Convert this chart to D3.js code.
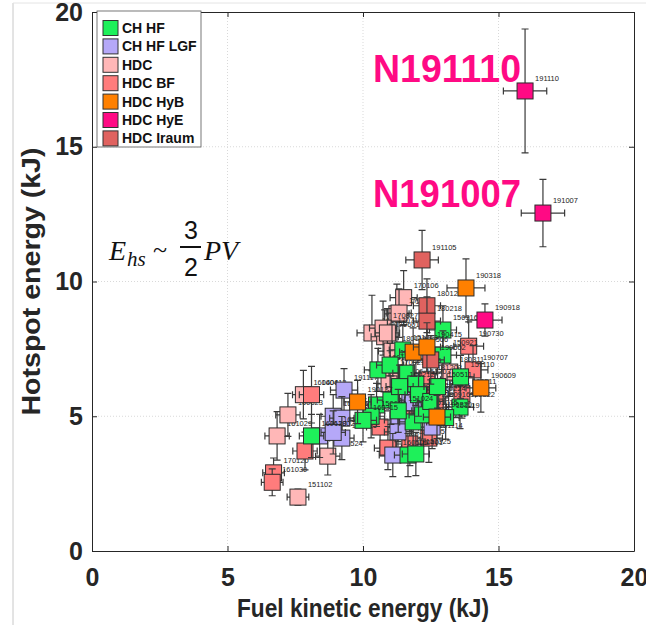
<!DOCTYPE html>
<html>
<head>
<meta charset="utf-8">
<script src="https://cdn.jsdelivr.net/npm/d3@7"></script>
<style>
  body { margin: 0; background: #fff; }
  svg { display: block; }
</style>
</head>
<body>
<div id="chart"></div>
<script>
// Data: [fuel KE (kJ), hotspot E (kJ), x error, y error, shot]
var chHf = [
  [12.95, 8.2, 0.5, 0.9, '150316'], [12.95, 7.27, 0.5, 0.9, '150921'],
  [11.47, 7.46, 0.5, 0.9, '151213'], [10.5, 5.42, 0.5, 0.8, '150521'],
  [10.55, 6.72, 0.5, 0.8, '160120'], [13.58, 5.34, 0.5, 0.8, '150822'],
  [11.03, 5.6, 0.5, 0.9, '160301'], [11.85, 4.79, 0.5, 0.9, '150727'],
  [12.2, 5.05, 0.5, 0.9, '151015'], [11.66, 3.56, 0.5, 0.8, '150401'],
  [8.1, 4.27, 0.45, 0.8, '160128'], [13.6, 6.46, 0.5, 0.8, '151110'],
  [11.0, 6.9, 0.5, 0.8, '150629'], [11.6, 6.6, 0.5, 0.8, '150805'],
  [11.95, 6.2, 0.5, 0.8, '151203'], [11.35, 6.1, 0.5, 0.8, '160212'],
  [12.05, 5.8, 0.5, 0.8, '150916'], [12.5, 5.55, 0.5, 0.8, '160224'],
  [10.3, 5.0, 0.5, 0.8, '150608'], [11.3, 5.2, 0.5, 0.8, '151024'],
  [12.75, 6.1, 0.5, 0.8, '150511'], [13.05, 4.95, 0.5, 0.8, '151119'],
  [11.95, 3.6, 0.5, 0.8, '150325'], [10.0, 4.85, 0.5, 0.8, '160315']
]
var chHfLgf = [
  [9.3, 5.97, 0.5, 0.8, '191117'], [8.9, 5.0, 0.45, 0.8, '160826'],
  [9.22, 4.93, 0.45, 0.8, '160912'], [8.4, 4.27, 0.45, 0.8, '161002'],
  [9.22, 4.19, 0.45, 0.8, '160915'], [8.9, 4.4, 0.45, 0.8, '161113'],
  [11.73, 5.6, 0.5, 0.8, '160807'], [11.29, 4.86, 0.5, 0.8, '160724'],
  [11.29, 4.42, 0.5, 0.8, '160612'], [11.1, 3.56, 0.5, 0.8, '160506'],
  [11.85, 5.5, 0.5, 0.8, '160925'], [12.55, 4.6, 0.5, 0.8, '161211']
]
var hdc = [
  [7.6, 2.0, 0.4, 0.3, '151102'], [6.83, 4.27, 0.45, 0.9, '161029'],
  [7.23, 5.05, 0.45, 0.8, '160623'], [7.8, 5.8, 0.4, 0.9, '160406'],
  [8.7, 3.52, 0.45, 0.7, '170524'], [10.33, 8.09, 0.55, 1.4, '161023'],
  [10.8, 7.95, 0.5, 1.0, '170601'], [11.25, 8.8, 0.45, 1.1, '171015'],
  [11.5, 9.4, 0.5, 1.0, '170106'], [11.33, 8.83, 0.45, 0.9, '171029'],
  [10.74, 8.27, 0.5, 1.0, '170827'], [10.9, 8.09, 0.45, 0.9, '170718'],
  [11.07, 7.42, 0.5, 1.0, '180119'], [13.2, 6.64, 0.5, 0.9, '180311'],
  [11.0, 6.53, 0.5, 0.9, '170921'], [10.96, 6.2, 0.45, 0.8, '171106']
]
var hdcBf = [
  [8.1, 5.8, 0.45, 1.05, '160413'], [6.7, 2.9, 0.4, 0.55, '170120'],
  [6.65, 2.55, 0.4, 0.5, '161030'], [7.86, 3.71, 0.45, 0.7, '170220'],
  [10.63, 4.6, 0.5, 0.9, '180708'], [11.73, 5.34, 0.5, 0.9, '180613'],
  [10.92, 3.82, 0.5, 0.8, '180822'], [12.43, 4.19, 0.5, 0.9, '181114'],
  [13.9, 7.6, 0.55, 0.9, '190730'], [14.06, 6.72, 0.55, 0.9, '190707'],
  [12.36, 6.35, 0.5, 0.9, '181203'], [13.65, 5.83, 0.5, 0.9, '180511'],
  [12.66, 5.68, 0.5, 0.9, '181005'], [12.66, 5.34, 0.5, 0.8, '180916'],
  [11.73, 3.97, 0.5, 0.8, '180805']
]
var hdcHyB = [
  [13.8, 9.76, 0.7, 1.08, '190318'], [11.85, 7.38, 0.5, 0.9, '190506'],
  [12.36, 7.57, 0.5, 0.9, '190415'], [14.35, 6.05, 0.55, 0.9, '190609'],
  [9.8, 5.53, 0.5, 0.8, '190127'], [12.73, 4.97, 0.5, 0.8, '190220']
]
var hdcHyE = [
  [15.98, 17.07, 0.8, 2.3, '191110'], [16.64, 12.54, 0.8, 1.25, '191007'],
  [14.5, 8.57, 0.63, 0.6, '190918']
]
var hdcIraum = [
  [12.18, 10.8, 0.6, 1.1, '191105'], [12.36, 9.1, 0.5, 1.0, '180128'],
  [12.36, 8.53, 0.5, 0.9, '180218'], [12.5, 7.09, 0.5, 0.9, '190602']
]

var seriesNames = ['CH HF', 'CH HF LGF', 'HDC', 'HDC BF', 'HDC HyB', 'HDC HyE', 'HDC Iraum']
var seriesColors = ['#1ef05a', '#b5a8f8', '#ffb7b7', '#ff7c7c', '#ff8000', '#ff0a84', '#e0625f']
var seriesData = [chHf, chHfLgf, hdc, hdcBf, hdcHyB, hdcHyE, hdcIraum]
// draw order (last on top)
var drawOrder = [2, 3, 1, 0, 6, 4, 5]

var ticks = [0, 5, 10, 15, 20]
var callouts = ['N191110', 'N191007']

// Dimensions
var width = 646
var height = 625
var margin = { top: 12, right: 12, bottom: 74, left: 92 }
var chartWidth = width - margin.left - margin.right
var chartHeight = height - margin.top - margin.bottom
var boldFont = '"Liberation Sans", Arial, Helvetica, sans-serif'
var axisColor = '#262626'

var svg = d3.select('#chart').append('svg')
  .attr('width', width)
  .attr('height', height)

// figure frame lines
svg.append('line').attr('x1', 13).attr('x2', 13).attr('y1', 3).attr('y2', height)
  .attr('stroke', '#c8c8c8').attr('stroke-width', 1)
svg.append('line').attr('x1', 13).attr('x2', width).attr('y1', 3).attr('y2', 3)
  .attr('stroke', '#e4e4e4').attr('stroke-width', 1)

var g = svg.append('g')
  .attr('transform', 'translate(' + margin.left + ',' + margin.top + ')')

var x = d3.scaleLinear().domain([0, 20]).range([0, chartWidth])
var y = d3.scaleLinear().domain([0, 20]).range([chartHeight, 0])

// Grid
g.append('g').selectAll('line.gx')
  .data(ticks.slice(1, -1))
  .enter().append('line')
  .attr('x1', function (d) { return x(d) }).attr('x2', function (d) { return x(d) })
  .attr('y1', 0).attr('y2', chartHeight)
  .attr('stroke', '#d9d9d9').attr('stroke-dasharray', '1,2')
g.append('g').selectAll('line.gy')
  .data(ticks.slice(1, -1))
  .enter().append('line')
  .attr('y1', function (d) { return y(d) }).attr('y2', function (d) { return y(d) })
  .attr('x1', 0).attr('x2', chartWidth)
  .attr('stroke', '#d9d9d9').attr('stroke-dasharray', '1,2')

// Axes (ticks pointing inward)
var xAxis = g.append('g')
  .attr('transform', 'translate(0,' + chartHeight + ')')
  .call(d3.axisBottom(x).tickValues(ticks).tickSizeInner(-5).tickSizeOuter(0).tickPadding(17))
var yAxis = g.append('g')
  .call(d3.axisLeft(y).tickValues(ticks).tickSizeInner(-5).tickSizeOuter(0).tickPadding(9))
g.append('g')
  .attr('transform', 'translate(' + chartWidth + ',0)')
  .call(d3.axisRight(y).tickValues(ticks).tickSizeInner(-5).tickSizeOuter(0).tickFormat(''))
g.append('g')
  .call(d3.axisTop(x).tickValues(ticks).tickSizeInner(-5).tickSizeOuter(0).tickFormat(''))

g.selectAll('.domain').attr('stroke', axisColor)
g.selectAll('.tick line').attr('stroke', axisColor)
g.selectAll('.tick text')
  .attr('fill', axisColor)
  .style('font-family', boldFont)
  .style('font-weight', 'bold')
  .style('font-size', '25px')

// Axis labels
svg.append('text')
  .attr('transform', 'translate(40,' + (margin.top + chartHeight / 2) + ') rotate(-90)')
  .attr('text-anchor', 'middle')
  .attr('textLength', 268)
  .attr('lengthAdjust', 'spacingAndGlyphs')
  .attr('fill', axisColor)
  .style('font-family', boldFont)
  .style('font-weight', 'bold')
  .style('font-size', '26px')
  .text('Hotspot energy (kJ)')

svg.append('text')
  .attr('x', margin.left + chartWidth / 2)
  .attr('y', 617)
  .attr('text-anchor', 'middle')
  .attr('textLength', 252)
  .attr('lengthAdjust', 'spacingAndGlyphs')
  .attr('fill', axisColor)
  .style('font-family', boldFont)
  .style('font-weight', 'bold')
  .style('font-size', '25px')
  .text('Fuel kinetic energy (kJ)')

// Points
var size = 16
var cap = 3.5
var plot = g.append('g').attr('class', 'points')

drawOrder.forEach(function (si) {
  var grp = plot.append('g')
  var pts = grp.selectAll('g.pt')
    .data(seriesData[si])
    .enter().append('g')
    .attr('class', 'pt')

  // horizontal error bar
  pts.append('path')
    .attr('d', function (d) {
      var x0 = x(d[0] - d[2]), x1 = x(d[0] + d[2]), yy = y(d[1])
      return 'M' + x0 + ',' + yy + 'H' + x1 +
        'M' + x0 + ',' + (yy - cap) + 'V' + (yy + cap) +
        'M' + x1 + ',' + (yy - cap) + 'V' + (yy + cap)
    })
    .attr('stroke', '#3a3a3a').attr('stroke-width', 1.2).attr('fill', 'none')

  // vertical error bar
  pts.append('path')
    .attr('d', function (d) {
      var y0 = y(d[1] - d[3]), y1 = y(d[1] + d[3]), xx = x(d[0])
      return 'M' + xx + ',' + y0 + 'V' + y1 +
        'M' + (xx - cap) + ',' + y0 + 'H' + (xx + cap) +
        'M' + (xx - cap) + ',' + y1 + 'H' + (xx + cap)
    })
    .attr('stroke', '#3a3a3a').attr('stroke-width', 1.2).attr('fill', 'none')

  pts.append('rect')
    .attr('x', function (d) { return x(d[0]) - size / 2 })
    .attr('y', function (d) { return y(d[1]) - size / 2 })
    .attr('width', size)
    .attr('height', size)
    .attr('fill', seriesColors[si])
    .attr('stroke', '#2b2b2b')
    .attr('stroke-width', 1)

  pts.append('text')
    .attr('x', function (d) { return x(d[0]) + 10 })
    .attr('y', function (d) { return y(d[1]) - 10 })
    .attr('fill', '#222')
    .style('font-family', 'Arial, "Liberation Sans", sans-serif')
    .style('font-size', '7.5px')
    .text(function (d) { return d[4] })
})

// Callouts for the two record shots
svg.selectAll('text.callout')
  .data(callouts)
  .enter().append('text')
  .attr('class', 'callout')
  .attr('x', 373)
  .attr('y', function (d, i) { return i === 0 ? 82 : 207 })
  .attr('textLength', 148)
  .attr('lengthAdjust', 'spacingAndGlyphs')
  .attr('fill', seriesColors[5])
  .style('font-family', boldFont)
  .style('font-weight', 'bold')
  .style('font-size', '39px')
  .text(function (d) { return d })

// Equation  E_hs ~ 3/2 PV
var eq = svg.append('g')
  .style('font-family', '"Liberation Serif", "DejaVu Serif", serif')
  .attr('fill', '#111')
eq.append('text').attr('x', 109).attr('y', 260)
  .style('font-style', 'italic').style('font-size', '28px').text('E')
eq.append('text').attr('x', 127).attr('y', 266)
  .style('font-style', 'italic').style('font-size', '21px').text('hs')
eq.append('text').attr('x', 153).attr('y', 258)
  .style('font-size', '26px').text('~')
eq.append('text').attr('x', 191).attr('y', 239).attr('text-anchor', 'middle')
  .style('font-family', '"Liberation Sans", Arial, sans-serif')
  .style('font-size', '25px').text('3')
eq.append('line').attr('x1', 180).attr('x2', 201).attr('y1', 247).attr('y2', 247)
  .attr('stroke', '#111').attr('stroke-width', 2)
eq.append('text').attr('x', 191).attr('y', 276).attr('text-anchor', 'middle')
  .style('font-family', '"Liberation Sans", Arial, sans-serif')
  .style('font-size', '25px').text('2')
eq.append('text').attr('x', 204).attr('y', 260)
  .style('font-style', 'italic').style('font-size', '28px').text('PV')

// Legend
var legend = svg.append('g').attr('transform', 'translate(97,11)')
legend.append('rect')
  .attr('width', 104).attr('height', 136)
  .attr('fill', '#fff').attr('stroke', '#555').attr('stroke-width', 0.8)
var items = legend.selectAll('g.item')
  .data(seriesNames)
  .enter().append('g')
  .attr('class', 'item')
  .attr('transform', function (d, i) { return 'translate(0,' + (17 + i * 18.4) + ')' })
items.append('rect')
  .attr('x', 6).attr('y', -7.5).attr('width', 15).attr('height', 15)
  .attr('fill', function (d, i) { return seriesColors[i] })
  .attr('stroke', '#333').attr('stroke-width', 1)
items.append('text')
  .attr('x', 25).attr('dy', '0.36em')
  .attr('fill', '#111')
  .style('font-family', boldFont)
  .style('font-weight', 'bold')
  .style('font-size', '14px')
  .text(function (d) { return d })
</script>
</body>
</html>
